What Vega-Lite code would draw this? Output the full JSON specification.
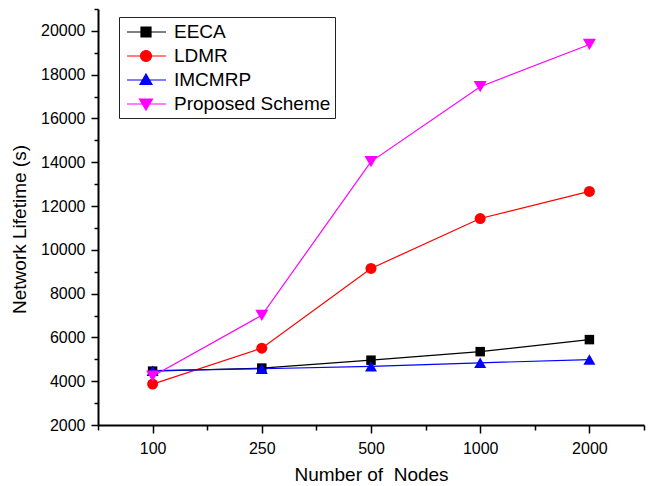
{
  "$schema": "https://vega.github.io/schema/vega-lite/v6.json",
  "width": 546,
  "height": 416,
  "autosize": {"type": "none"},
  "padding": {"left": 98, "top": 9, "right": 9, "bottom": 61},
  "background": "white",
  "config": {
    "view": {"stroke": null},
    "axis": {
      "grid": false,
      "domainColor": "black",
      "domainWidth": 2,
      "tickColor": "black",
      "tickWidth": 1.5,
      "labelFont": "Liberation Sans",
      "labelFontSize": 16,
      "labelColor": "black",
      "titleFont": "Liberation Sans",
      "titleFontSize": 19,
      "titleFontWeight": "normal",
      "titleColor": "black"
    }
  },
  "data": {
    "values": [
      {"nodes": 100, "series": "EECA", "lifetime": 4460},
      {"nodes": 250, "series": "EECA", "lifetime": 4600},
      {"nodes": 500, "series": "EECA", "lifetime": 4960},
      {"nodes": 1000, "series": "EECA", "lifetime": 5350},
      {"nodes": 2000, "series": "EECA", "lifetime": 5900},
      {"nodes": 100, "series": "LDMR", "lifetime": 3870},
      {"nodes": 250, "series": "LDMR", "lifetime": 5510},
      {"nodes": 500, "series": "LDMR", "lifetime": 9150},
      {"nodes": 1000, "series": "LDMR", "lifetime": 11430},
      {"nodes": 2000, "series": "LDMR", "lifetime": 12670},
      {"nodes": 100, "series": "IMCMRP", "lifetime": 4480},
      {"nodes": 250, "series": "IMCMRP", "lifetime": 4570},
      {"nodes": 500, "series": "IMCMRP", "lifetime": 4680},
      {"nodes": 1000, "series": "IMCMRP", "lifetime": 4840},
      {"nodes": 2000, "series": "IMCMRP", "lifetime": 4990},
      {"nodes": 100, "series": "Proposed Scheme", "lifetime": 4230},
      {"nodes": 250, "series": "Proposed Scheme", "lifetime": 7010},
      {"nodes": 500, "series": "Proposed Scheme", "lifetime": 14030},
      {"nodes": 1000, "series": "Proposed Scheme", "lifetime": 17450},
      {"nodes": 2000, "series": "Proposed Scheme", "lifetime": 19380}
    ]
  },
  "resolve": {
    "scale": {"x": "independent", "y": "independent"},
    "axis": {"x": "independent", "y": "independent"}
  },
  "layer": [
    {
      "mark": {"type": "line", "strokeWidth": 1.2},
      "encoding": {
        "x": {
          "field": "nodes", "type": "ordinal",
          "scale": {"type": "point", "padding": 0.5},
          "axis": {"orient": "bottom", "title": "Number of\u00a0 Nodes", "labelAngle": 0, "tickSize": 8, "labelPadding": 7, "titlePadding": 9}
        },
        "y": {
          "field": "lifetime", "type": "quantitative",
          "scale": {"domain": [2000, 21000], "nice": false, "zero": false},
          "axis": {"orient": "left", "title": "Network Lifetime (s)", "values": [2000, 4000, 6000, 8000, 10000, 12000, 14000, 16000, 18000, 20000], "format": "d", "tickSize": 7, "labelPadding": 6, "titlePadding": 11, "titleY": 220}
        },
        "color": {
          "field": "series", "type": "nominal",
          "scale": {"domain": ["EECA", "LDMR", "IMCMRP", "Proposed Scheme"], "range": ["#000000", "#ff0000", "#0000ff", "#ff00ff"]},
          "legend": {
            "title": null,
            "orient": "none",
            "legendX": 21,
            "legendY": 8,
            "labelFont": "Liberation Sans",
            "labelFontSize": 19,
            "labelColor": "black",
            "strokeColor": "#222222",
            "fillColor": "white",
            "padding": 4,
            "rowPadding": 3,
            "labelOffset": 29,
            "symbolSize": 400,
            "symbolStrokeWidth": 1.2,
            "encode": {
              "symbols": {
                "update": {
                  "shape": {"signal": "datum.value === 'EECA' ? 'M-0.7,0H3.2M0.7,-0.5H1.7V0.5H0.7Z' : datum.value === 'LDMR' ? 'M-0.7,0H3.2M0.65,0A0.55,0.55,0,1,0,1.75,0A0.55,0.55,0,1,0,0.65,0Z' : datum.value === 'IMCMRP' ? 'M-0.7,0H3.2M1.2,-0.6L1.8,0.45L0.6,0.45Z' : 'M-0.7,0H3.2M1.2,0.6L1.85,-0.5L0.55,-0.5Z'"},
                  "fill": {"signal": "scale('color', datum.value)"},
                  "stroke": {"signal": "scale('color', datum.value)"},
                  "strokeWidth": {"value": 1.2},
                  "size": {"value": 400},
                  "opacity": {"value": 1}
                }
              }
            }
          }
        }
      }
    },
    {
      "transform": [{"filter": "datum.series === 'EECA'"}],
      "mark": {"type": "point", "filled": true, "opacity": 1, "shape": "square", "size": 90, "color": "#000000"},
      "encoding": {
        "x": {"field": "nodes", "type": "ordinal", "scale": {"type": "point", "padding": 0.5}, "axis": null},
        "y": {"field": "lifetime", "type": "quantitative", "scale": {"domain": [2000, 21000], "nice": false, "zero": false}, "axis": null}
      }
    },
    {
      "transform": [{"filter": "datum.series === 'LDMR'"}],
      "mark": {"type": "point", "filled": true, "opacity": 1, "shape": "circle", "size": 121, "color": "#ff0000"},
      "encoding": {
        "x": {"field": "nodes", "type": "ordinal", "scale": {"type": "point", "padding": 0.5}, "axis": null},
        "y": {"field": "lifetime", "type": "quantitative", "scale": {"domain": [2000, 21000], "nice": false, "zero": false}, "axis": null}
      }
    },
    {
      "transform": [{"filter": "datum.series === 'IMCMRP'"}],
      "mark": {"type": "point", "filled": true, "opacity": 1, "shape": "triangle-up", "size": 144, "color": "#0000ff"},
      "encoding": {
        "x": {"field": "nodes", "type": "ordinal", "scale": {"type": "point", "padding": 0.5}, "axis": null},
        "y": {"field": "lifetime", "type": "quantitative", "scale": {"domain": [2000, 21000], "nice": false, "zero": false}, "axis": null}
      }
    },
    {
      "transform": [{"filter": "datum.series === 'Proposed Scheme'"}],
      "mark": {"type": "point", "filled": true, "opacity": 1, "shape": "triangle-down", "size": 169, "color": "#ff00ff"},
      "encoding": {
        "x": {"field": "nodes", "type": "ordinal", "scale": {"type": "point", "padding": 0.5}, "axis": null},
        "y": {"field": "lifetime", "type": "quantitative", "scale": {"domain": [2000, 21000], "nice": false, "zero": false}, "axis": null}
      }
    },
    {
      "mark": {"type": "point", "opacity": 0},
      "encoding": {
        "x": {
          "field": "nodes", "type": "ordinal",
          "scale": {"type": "band", "paddingInner": 0, "paddingOuter": 0},
          "axis": {"orient": "bottom", "tickBand": "extent", "labels": false, "domain": false, "title": null, "tickSize": 5}
        },
        "y": {
          "field": "lifetime", "type": "quantitative",
          "scale": {"domain": [2000, 21000], "nice": false, "zero": false},
          "axis": {"orient": "left", "values": [3000, 5000, 7000, 9000, 11000, 13000, 15000, 17000, 19000, 21000], "labels": false, "domain": false, "title": null, "tickSize": 4}
        }
      }
    }
  ]
}
